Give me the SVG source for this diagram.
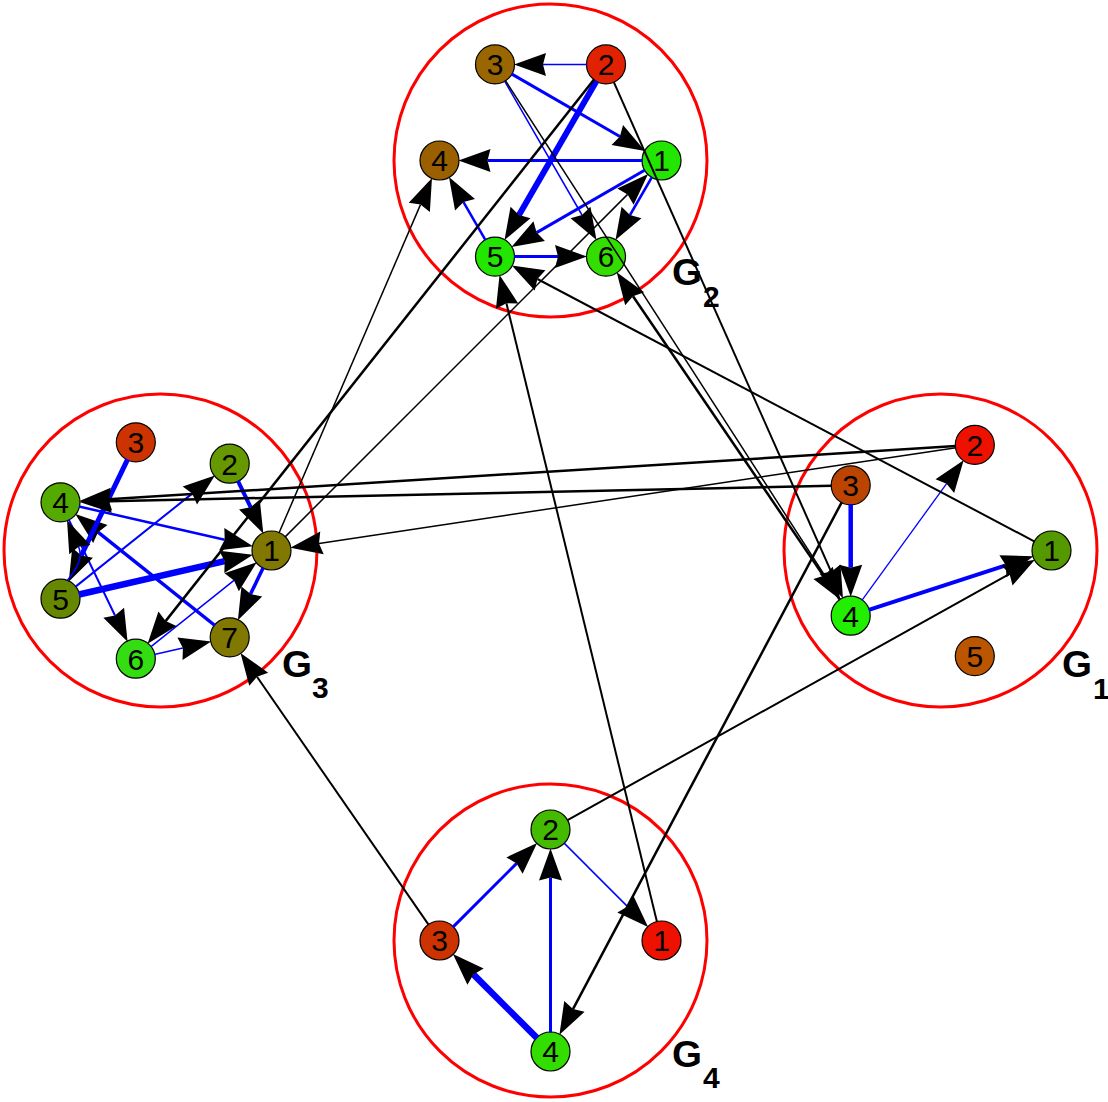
<svg xmlns="http://www.w3.org/2000/svg" width="1108" height="1102" viewBox="0 0 1108 1102">
<style>
.cl{fill:none;stroke:#ff0000;stroke-width:3}
.nd{stroke:#000;stroke-width:1.2}
.nt{font-family:"Liberation Sans",Arial,sans-serif;font-size:30px;text-anchor:middle;fill:#000}
.lb{font-family:"Liberation Sans",Arial,sans-serif;font-weight:bold;fill:#000}
.g{font-size:36px}
.s{font-size:30px}
.b{stroke:#0000ff;fill:none;marker-end:url(#ah)}
.k{stroke:#000;fill:none;marker-end:url(#ah)}
</style>
<defs>
<marker id="ah" markerUnits="userSpaceOnUse" markerWidth="40" markerHeight="30" refX="0" refY="0" orient="auto" overflow="visible">
<path d="M-3,-11.5 L29,0 L-3,11.5 L0,0 Z" fill="#000"/>
</marker>
</defs>
<rect width="1108" height="1102" fill="#fff"/>

<g id="clusters">
<g id="cluster-G1"><circle class="cl" cx="940.5" cy="550.5" r="156.5"/><text class="lb g" x="1062" y="677" textLength="30" lengthAdjust="spacingAndGlyphs">G</text><text class="lb s" x="1093" y="699">1</text></g>
<g id="cluster-G2"><circle class="cl" cx="550.5" cy="160.5" r="156.5"/><text class="lb g" x="672" y="285" textLength="30" lengthAdjust="spacingAndGlyphs">G</text><text class="lb s" x="703" y="307">2</text></g>
<g id="cluster-G3"><circle class="cl" cx="160.5" cy="550.5" r="156.5"/><text class="lb g" x="282" y="677" textLength="30" lengthAdjust="spacingAndGlyphs">G</text><text class="lb s" x="312" y="698">3</text></g>
<g id="cluster-G4"><circle class="cl" cx="550.5" cy="940.5" r="156.5"/><text class="lb g" x="672" y="1067" textLength="30" lengthAdjust="spacingAndGlyphs">G</text><text class="lb s" x="703" y="1088">4</text></g>
</g>

<g id="g2-n1"><circle class="nd" cx="661.5" cy="160.5" r="19.5" fill="#22e600"/><text class="nt" x="661.5" y="171.3">1</text></g>
<g id="g2-n2"><circle class="nd" cx="606" cy="64.4" r="19.5" fill="#e02200"/><text class="nt" x="606" y="75.2">2</text></g>
<g id="g2-n3"><circle class="nd" cx="495" cy="64.4" r="19.5" fill="#9a6600"/><text class="nt" x="495" y="75.2">3</text></g>
<g id="g2-n4"><circle class="nd" cx="439.5" cy="160.5" r="19.5" fill="#9a6000"/><text class="nt" x="439.5" y="171.3">4</text></g>
<g id="g2-n5"><circle class="nd" cx="495" cy="256.6" r="19.5" fill="#22e600"/><text class="nt" x="495" y="267.4">5</text></g>
<g id="g2-n6"><circle class="nd" cx="606" cy="256.6" r="19.5" fill="#33dd00"/><text class="nt" x="606" y="267.4">6</text></g>

<g id="g3-n1"><circle class="nd" cx="271.5" cy="550.5" r="19.5" fill="#807800"/><text class="nt" x="271.5" y="561.3">1</text></g>
<g id="g3-n2"><circle class="nd" cx="229.7" cy="463.7" r="19.5" fill="#669900"/><text class="nt" x="229.7" y="474.5">2</text></g>
<g id="g3-n3"><circle class="nd" cx="135.8" cy="442.3" r="19.5" fill="#cc3300"/><text class="nt" x="135.8" y="453.1">3</text></g>
<g id="g3-n4"><circle class="nd" cx="60.5" cy="502.3" r="19.5" fill="#55aa00"/><text class="nt" x="60.5" y="513.1">4</text></g>
<g id="g3-n5"><circle class="nd" cx="60.5" cy="598.7" r="19.5" fill="#668800"/><text class="nt" x="60.5" y="609.5">5</text></g>
<g id="g3-n6"><circle class="nd" cx="135.8" cy="658.7" r="19.5" fill="#33dd11"/><text class="nt" x="135.8" y="669.5">6</text></g>
<g id="g3-n7"><circle class="nd" cx="229.7" cy="637.3" r="19.5" fill="#807800"/><text class="nt" x="229.7" y="648.1">7</text></g>

<g id="g1-n1"><circle class="nd" cx="1051.5" cy="550.5" r="19.5" fill="#559900"/><text class="nt" x="1051.5" y="561.3">1</text></g>
<g id="g1-n2"><circle class="nd" cx="974.8" cy="444.9" r="19.5" fill="#ee1100"/><text class="nt" x="974.8" y="455.7">2</text></g>
<g id="g1-n3"><circle class="nd" cx="850.7" cy="485.3" r="19.5" fill="#bb4400"/><text class="nt" x="850.7" y="496.1">3</text></g>
<g id="g1-n4"><circle class="nd" cx="850.7" cy="615.7" r="19.5" fill="#22ee00"/><text class="nt" x="850.7" y="626.5">4</text></g>
<g id="g1-n5"><circle class="nd" cx="974.8" cy="656.1" r="19.5" fill="#bb5500"/><text class="nt" x="974.8" y="666.9">5</text></g>

<g id="g4-n1"><circle class="nd" cx="661.5" cy="940.5" r="19.5" fill="#ee1100"/><text class="nt" x="661.5" y="951.3">1</text></g>
<g id="g4-n2"><circle class="nd" cx="550.5" cy="829.5" r="19.5" fill="#44bb00"/><text class="nt" x="550.5" y="840.3">2</text></g>
<g id="g4-n3"><circle class="nd" cx="439.5" cy="940.5" r="19.5" fill="#cc3300"/><text class="nt" x="439.5" y="951.3">3</text></g>
<g id="g4-n4"><circle class="nd" cx="550.5" cy="1051.5" r="19.5" fill="#33dd00"/><text class="nt" x="550.5" y="1062.3">4</text></g>

<g id="connectors">
<!-- G2 internal -->
<line class="b" x1="587" y1="64.4" x2="543" y2="64.4" style="stroke-width:1.5"/>
<line class="b" x1="511.5" y1="73.9" x2="619.9" y2="136.5" style="stroke-width:3"/>
<line class="b" x1="642.5" y1="160.5" x2="487.5" y2="160.5" style="stroke-width:3"/>
<line class="b" x1="596.5" y1="80.9" x2="519" y2="215" style="stroke-width:6"/>
<line class="b" x1="645" y1="170" x2="536.6" y2="232.6" style="stroke-width:3"/>
<line class="b" x1="652" y1="177" x2="630" y2="215" style="stroke-width:2.5"/>
<line class="b" x1="485.5" y1="240.1" x2="463.5" y2="202.1" style="stroke-width:2.5"/>
<line class="b" x1="514" y1="256.6" x2="558" y2="256.6" style="stroke-width:3"/>
<line class="b" x1="504.5" y1="80.9" x2="582" y2="215" style="stroke-width:1.5"/>
<!-- G3 internal -->
<line class="b" x1="237.9" y1="480.8" x2="250.7" y2="507.3" style="stroke-width:4"/>
<line class="b" x1="79" y1="506.5" x2="224.7" y2="539.8" style="stroke-width:2.5"/>
<line class="b" x1="79" y1="594.5" x2="224.7" y2="561.2" style="stroke-width:6.5"/>
<line class="b" x1="150.7" y1="646.9" x2="234" y2="580.4" style="stroke-width:1.5"/>
<line class="b" x1="263.3" y1="567.6" x2="250.5" y2="594.1" style="stroke-width:3.5"/>
<line class="b" x1="154.3" y1="654.5" x2="182.9" y2="648" style="stroke-width:1.5"/>
<line class="b" x1="75.3" y1="586.9" x2="192.2" y2="493.6" style="stroke-width:2"/>
<line class="b" x1="214.9" y1="625.5" x2="98" y2="532.2" style="stroke-width:3.5"/>
<line class="b" x1="68.7" y1="519.4" x2="115" y2="615.5" style="stroke-width:2"/>
<line class="b" x1="127.6" y1="459.4" x2="81.3" y2="555.5" style="stroke-width:5"/>
<path class="b" d="M67,580.8 Q84.6,560.6 78.6,546.8" style="stroke-width:1.5"/>
<!-- G1 internal -->
<line class="b" x1="850.7" y1="504.3" x2="850.7" y2="567.7" style="stroke-width:4.5"/>
<line class="b" x1="861.9" y1="600.3" x2="946.6" y2="483.7" style="stroke-width:1.3"/>
<line class="b" x1="868.8" y1="609.8" x2="1005.8" y2="565.3" style="stroke-width:4"/>
<!-- G4 internal -->
<line class="b" x1="452.9" y1="927.1" x2="516.6" y2="863.4" style="stroke-width:3"/>
<line class="b" x1="550.5" y1="1032.5" x2="550.5" y2="877.5" style="stroke-width:3"/>
<line class="b" x1="537.1" y1="1038.1" x2="473.4" y2="974.4" style="stroke-width:6.5"/>
<line class="b" x1="563.9" y1="842.9" x2="627.6" y2="906.6" style="stroke-width:1.5"/>
<!-- inter-cluster -->
<line class="k" x1="594.2" y1="79.3" x2="165.6" y2="621.1" style="stroke-width:2.5"/>
<line class="k" x1="279" y1="533" x2="420.5" y2="204.6" style="stroke-width:1.5"/>
<line class="k" x1="284.9" y1="537.1" x2="627.6" y2="194.4" style="stroke-width:1.5"/>
<line class="k" x1="657" y1="922" x2="506.4" y2="303.2" style="stroke-width:2"/>
<line class="k" x1="1034.7" y1="541.6" x2="537.4" y2="279" style="stroke-width:2"/>
<line class="k" x1="840" y1="600" x2="633" y2="296.3" style="stroke-width:2.5"/>
<line class="k" x1="505.3" y1="80.4" x2="824.7" y2="575.4" style="stroke-width:1.5"/>
<line class="k" x1="613.7" y1="81.8" x2="831.2" y2="571.8" style="stroke-width:2"/>
<line class="k" x1="955.8" y1="446.1" x2="108.4" y2="499.3" style="stroke-width:2.5"/>
<line class="k" x1="831.7" y1="485.7" x2="108.5" y2="501.3" style="stroke-width:2.5"/>
<line class="k" x1="956" y1="447.7" x2="319" y2="543.4" style="stroke-width:1.5"/>
<line class="k" x1="428.7" y1="924.9" x2="257" y2="676.8" style="stroke-width:2"/>
<line class="k" x1="567.1" y1="820.3" x2="1009.6" y2="573.9" style="stroke-width:2"/>
<line class="k" x1="841.8" y1="502.1" x2="573" y2="1009.1" style="stroke-width:2.5"/>
</g>
</svg>
